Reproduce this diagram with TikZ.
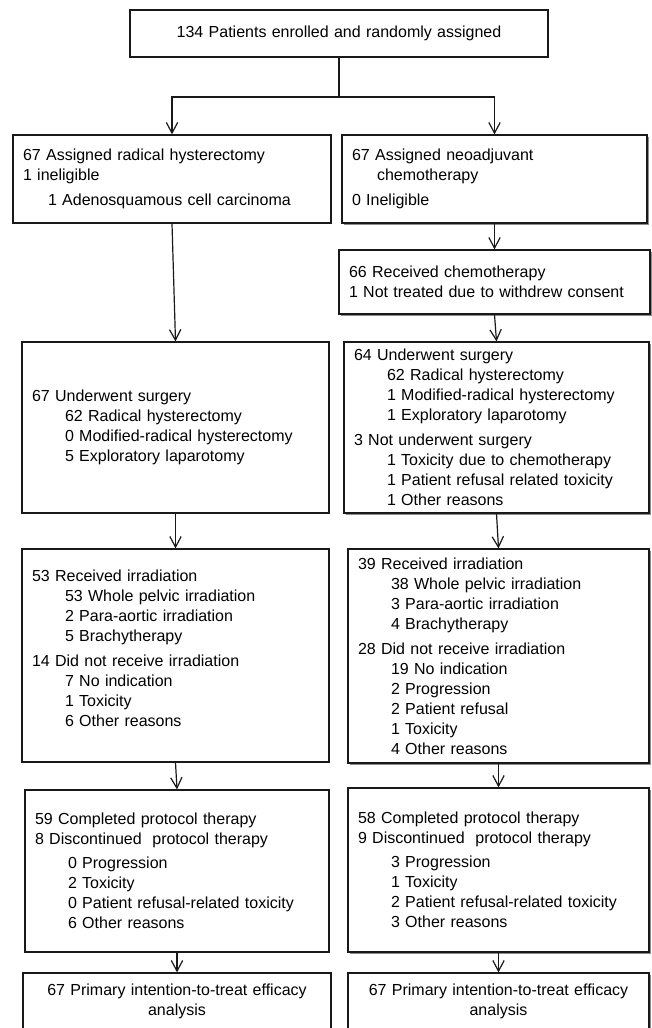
\documentclass[tikz,border=0pt]{standalone}
\usepackage{fontspec}
\setmainfont{Liberation Sans}
\usetikzlibrary{arrows.meta, positioning, shadows}
\newcommand{\indA}{\hspace*{24.75pt}}
\newcommand{\indB}{\hspace*{18.75pt}}

\begin{document}
\begin{tikzpicture}[x=0.75pt, y=-0.75pt,
  flowbox/.style={draw=black!90, fill=white, line width=0.9pt, inner xsep=7.5pt, inner ysep=0pt,
    align=left, font=\fontsize{12}{15}\selectfont, text=black},
  shadebox/.style={flowbox, drop shadow={shadow xshift=1.3pt, shadow yshift=-1.3pt, fill=black!45, opacity=1}},
  arr/.style={-{Straight Barb[length=8pt,width=8.5pt]}, line width=0.9pt, draw=black!90}]
  \useasboundingbox (0,0) rectangle (651,1028);
  \node[flowbox, align=center, text width=298.5pt, minimum height=35.25pt] (enrol) at (339,33.5) {134 Patients enrolled and randomly assigned};
  \node[flowbox, text width=223.5pt, minimum height=66pt] (armA) at (172,179) {67 Assigned radical hysterectomy\\1 ineligible\\[4pt]\indB 1 Adenosquamous cell carcinoma};
  \node[shadebox, text width=213.75pt, minimum height=66pt] (armB) at (494.5,179) {67 Assigned neoadjuvant\\\indB chemotherapy\\[4pt]0 Ineligible};
  \node[shadebox, text width=218.25pt, minimum height=48pt] (chemoB) at (494.5,282) {66 Received chemotherapy\\1 Not treated due to withdrew consent};
  \node[flowbox, text width=215.25pt, minimum height=128.25pt] (surgA) at (175.5,427.5) {67 Underwent surgery\\\indA 62 Radical hysterectomy\\\indA 0 Modified-radical hysterectomy\\\indA 5 Exploratory laparotomy};
  \node[shadebox, text width=213.75pt, minimum height=128.25pt] (surgB) at (496.5,427.5) {64 Underwent surgery\\\indA 62 Radical hysterectomy\\\indA 1 Modified-radical hysterectomy\\\indA 1 Exploratory laparotomy\\[4pt]3 Not underwent surgery\\\indA 1 Toxicity due to chemotherapy\\\indA 1 Patient refusal related toxicity\\\indA 1 Other reasons};
  \node[flowbox, text width=215.25pt, minimum height=159.75pt] (irrA) at (175.5,655.5) {53 Received irradiation\\\indA 53 Whole pelvic irradiation\\\indA 2 Para-aortic irradiation\\\indA 5 Brachytherapy\\[4pt]14 Did not receive irradiation\\\indA 7 No indication\\\indA 1 Toxicity\\\indA 6 Other reasons\\[-4.5pt]\mbox{}};
  \node[shadebox, text width=210.75pt, minimum height=160.5pt] (irrB) at (498.5,656) {39 Received irradiation\\\indA 38 Whole pelvic irradiation\\\indA 3 Para-aortic irradiation\\\indA 4 Brachytherapy\\[4pt]28 Did not receive irradiation\\\indA 19 No indication\\\indA 2 Progression\\\indA 2 Patient refusal\\\indA 1 Toxicity\\\indA 4 Other reasons};
  \node[flowbox, text width=213pt, minimum height=121.5pt] (compA) at (177,871) {59 Completed protocol therapy\\8 Discontinued~ protocol therapy\\[3pt]\indA 0 Progression\\\indA 2 Toxicity\\\indA 0 Patient refusal-related toxicity\\\indA 6 Other reasons};
  \node[shadebox, text width=210.75pt, minimum height=123pt] (compB) at (498.5,870) {58 Completed protocol therapy\\9 Discontinued~ protocol therapy\\[3pt]\indA 3 Progression\\\indA 1 Toxicity\\\indA 2 Patient refusal-related toxicity\\\indA 3 Other reasons};
  \node[flowbox, align=center, text width=216pt, minimum height=42pt] (ittA) at (177,1001) {67 Primary intention-to-treat efficacy\\analysis};
  \node[shadebox, align=center, text width=210.75pt, minimum height=42pt] (ittB) at (498.5,1001) {67 Primary intention-to-treat efficacy\\analysis};

  \coordinate (split) at (339,97);
  \draw[line width=0.9pt, draw=black!90] (enrol.south) -- (split);
  \draw[arr] (split) -| (armA.north);
  \draw[arr] (split) -| (armB.north);
  \draw[arr] (armA.south) -- (surgA.north);
  \draw[arr] (armB.south) -- (chemoB.north);
  \draw[arr] (chemoB.south) -- (surgB.north);
  \draw[arr] (surgA.south) -- (irrA.north);
  \draw[arr] (surgB.south) -- (irrB.north);
  \draw[arr] (irrA.south) -- (compA.north);
  \draw[arr] (irrB.south) -- (compB.north);
  \draw[arr] (compA.south) -- (ittA.north);
  \draw[arr] (compB.south) -- (ittB.north);
\end{tikzpicture}
\end{document}
